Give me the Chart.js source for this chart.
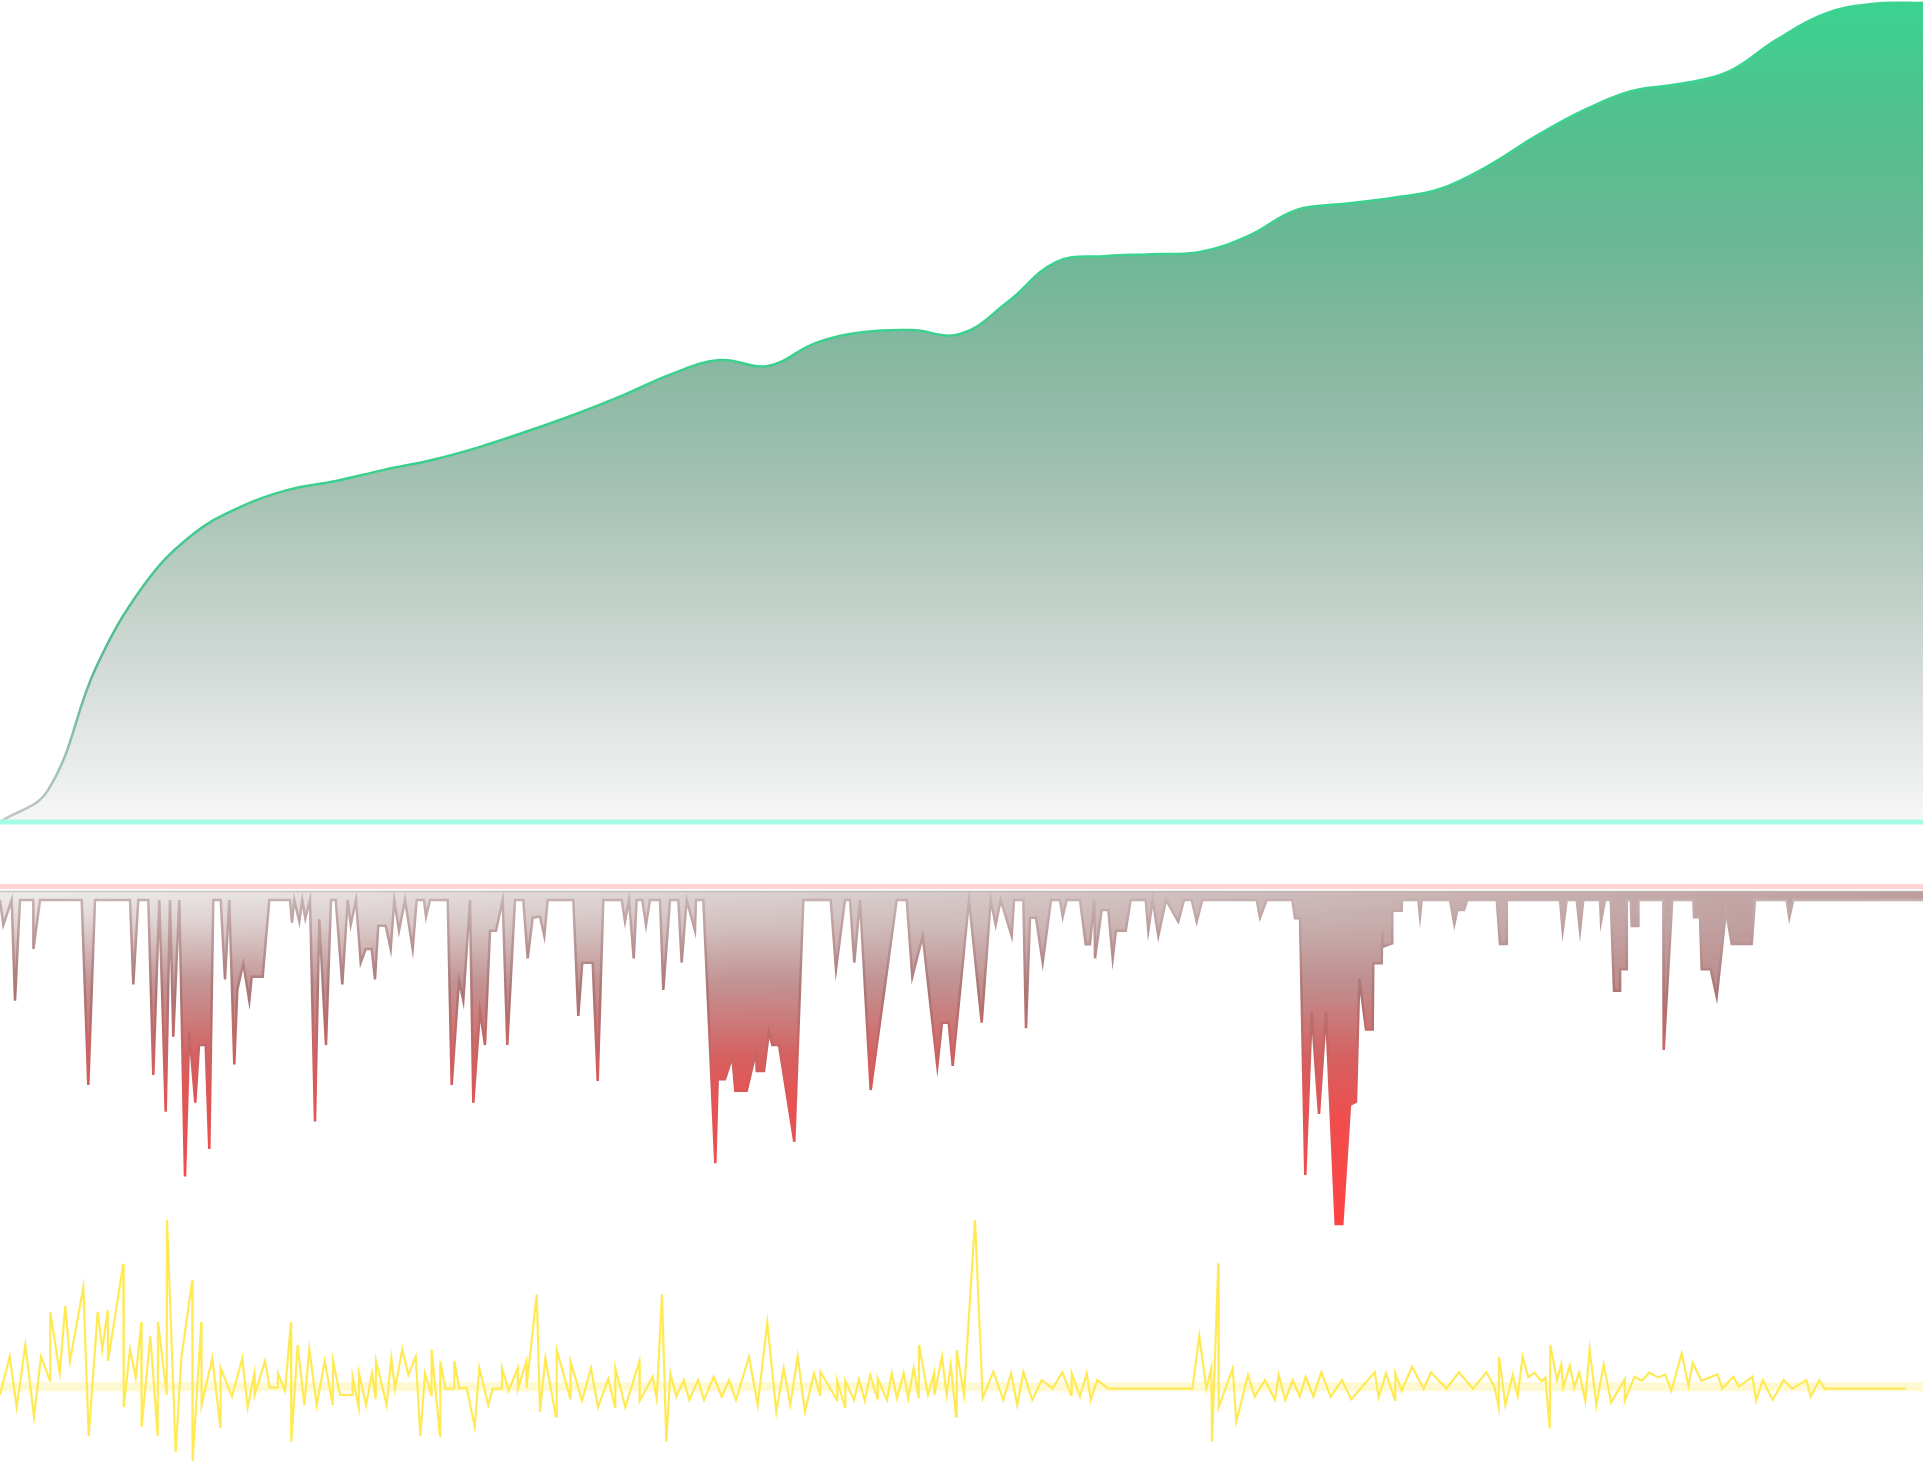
<!DOCTYPE html>
<html>
<head>
<meta charset="utf-8">
<title>Equity, drawdown and returns</title>
<script src="https://cdn.jsdelivr.net/npm/chart.js@4.4.1/dist/chart.umd.min.js"></script>
<style>
  html, body { margin: 0; padding: 0; background: #fff; }
  body { width: 1923px; height: 1461px; position: relative; overflow: hidden; }
  canvas { position: absolute; left: 0; }
  #returns { top: 1200px; }
  #drawdown { top: 880px; }
  #equity { top: 0; }
</style>
</head>
<body>
<canvas id="returns" width="1923" height="261"></canvas>
<canvas id="drawdown" width="1923" height="360"></canvas>
<canvas id="equity" width="1923" height="830"></canvas>
<script>
// time axis is in hours from the start of the run
const TOTAL_HOURS = 1923;

// cumulative equity (%), sampled every 48h
const equityHours = [0, 48, 96, 144, 192, 240, 288, 336, 384, 432, 480, 528, 576, 624, 672, 720, 768, 816, 864, 912,
  960, 1008, 1056, 1104, 1152, 1200, 1248, 1296, 1344, 1392, 1440, 1488, 1536, 1584, 1632, 1680, 1728, 1776, 1824, 1872, 1923];
const equityValues = [0, 9.7, 47, 72.1, 87.3, 95.8, 101.0, 103.7, 107.1, 110.1, 114.1, 118.9, 124.1, 129.9, 136.3, 140.5,
  138.7, 145.7, 149.0, 149.6, 148.4, 158.2, 170.3, 172.1, 172.7, 173.4, 178.2, 186.1, 188.0, 189.8, 192.5, 199.5,
  208.6, 216.5, 222.3, 224.5, 228.1, 237.8, 245.7, 248.8, 249.1];

// drawdown (%)
const ddHours = [0, 3.3, 11.7, 15, 20, 33.3, 33.4, 40, 81.7, 88.3, 95, 130, 133.3, 138.3, 148.3, 153.3, 159.3, 165.7, 170,
  173.3, 179.3, 185, 189.3, 195.3, 199, 205.7, 209.3, 213.3, 220.7, 225, 229.3, 234.3, 237.3, 243.3, 249.3, 251.7, 262.7,
  269.3, 290, 292, 294.3, 299.3, 302.3, 305.3, 310, 315, 319.3, 326, 331, 335.7, 342.3, 347.7, 350.7, 356, 360.7, 365.7,
  371.7, 375, 378.3, 385.7, 390.7, 394.3, 399, 405, 412.7, 416.7, 424, 426, 430, 447.7, 451.7, 459, 463.3, 470, 473.3,
  480, 485, 490, 496, 502.7, 507.3, 515, 523.3, 527.7, 532.7, 540, 544.3, 547.7, 573.3, 578.3, 582.3, 592.7, 597.7,
  603.3, 621.7, 625, 629, 633.7, 636.7, 642.3, 646, 650, 660, 663.3, 670, 678.3, 681.7, 686.7, 695, 696, 703.3, 715.3,
  717.7, 725, 732.3, 735.3, 746.7, 756, 756.7, 764, 769, 772.3, 779, 794.3, 803.3, 830.7, 836, 845, 850, 854.3, 860,
  870.7, 896.7, 906.7, 912.3, 922.7, 937.3, 942, 948.7, 952.7, 969, 981.7, 990.7, 995.7, 1000.7, 1011.7, 1014, 1023.3,
  1026, 1030, 1036, 1042.7, 1051, 1060, 1062.7, 1066.7, 1080, 1085.7, 1090, 1094.3, 1095, 1101.7, 1108.3, 1112.7, 1116,
  1125.7, 1130.7, 1145.7, 1148.3, 1152.7, 1158.3, 1166, 1178.3, 1184, 1191.7, 1196.7, 1202.3, 1256.7, 1260, 1266.7,
  1292.3, 1295, 1300, 1305.3, 1311.7, 1319, 1326, 1335.7, 1342.3, 1350, 1356, 1359.3, 1366, 1372.7, 1373.3, 1381.7,
  1382.3, 1383.3, 1392, 1392.3, 1401.7, 1402, 1418.3, 1420, 1421.7, 1450, 1454.3, 1457.3, 1464, 1467.3, 1496.7, 1500,
  1506.7, 1506.8, 1560, 1562.7, 1566.7, 1576.7, 1580, 1583.3, 1600, 1601, 1605, 1610.7, 1614, 1620, 1620.1, 1626.7,
  1626.8, 1630.7, 1631.7, 1638.3, 1638.4, 1663.3, 1663.7, 1672.3, 1693.3, 1694, 1700, 1701.7, 1710.7, 1716.7, 1726,
  1731.7, 1751.7, 1755, 1786.7, 1789.3, 1793.3, 1923];
const ddValues = [0, -2.31, 0, -9.32, 0, 0, -4.54, 0, 0, -17.13, 0, 0, -7.81, 0, 0, -16.2, 0, -19.6, 0,
  -12.65, 0, -25.6, -12.2, -18.77, -13.43, -13.43, -23.06, 0, 0, -7.35, 0, -15.22, -8.33, -5.86, -9.32, -7.1, -7.1,
  0, 0, -2.1, 0, -2.0, 0, -1.7, 0, -20.5, -1.79, -13.43, 0, 0, -7.81, 0, -2.31, 0, -5.8, -4.54,
  -4.54, -7.35, -2.38, -2.38, -4.54, 0, -2.84, 0, -4.54, 0, 0, -1.54, 0, 0, -17.13, -7.41, -9.32, 0, -18.77,
  -10.25, -13.43, -2.84, -2.84, 0, -13.43, 0, 0, -5.4, -1.64, -1.54, -3.33, 0, 0, -10.74, -5.8, -5.8, -16.76,
  0, 0, -2.0, 0, -5.4, 0, 0, -2.31, 0, 0, -8.33, 0, 0, -5.8, 0, -2.84, 0, 0, -24.38,
  -16.6, -16.6, -14.5, -17.65, -17.65, -14.04, -15.83, -15.83, -12.19, -13.43, -13.43, -22.38, 0, 0, -6.42, 0, 0, -5.8, 0,
  -17.59, 0, 0, -7.1, -3.33, -15.37, -11.36, -11.36, -15.37, 0, -11.36, 0, -2.31, 0, -3.33, 0, 0,
  -11.88, -1.64, -1.64, -5.8, 0, 0, -1.54, 0, 0, -4.1, -4.1, 0, -5.4, -0.93, -0.93, -5.4, -2.84,
  -2.84, 0, 0, -2.84, 0, -3.33, 0, -2.0, 0, 0, -2.0, 0, 0, -1.64, 0,
  0, -1.7, -1.7, -25.46, -10.34, -19.81, -10.34, -30, -30, -18.98, -18.67, -7.25, -11.98, -11.98, -5.86, -5.86,
  -2.93, -4.32, -4.01, -0.99, -0.99, 0, 0, -1.54, 0, 0, -2.25, -0.93, -0.93, 0, 0, -4.07,
  -4.07, 0, 0, -2.84, 0, 0, -2.84, 0, 0, -2.0, 0, 0, -8.4, -8.4, -6.42, -6.42,
  0, 0, -2.41, -2.41, 0, 0, -13.89, 0, 0, -1.6, -1.6, -6.42, -6.42, -8.95, -0.99,
  -4.07, -4.07, 0, 0, -1.64, 0, 0];

// per-period returns (%)
const retHours = [0, 9.7, 16.7, 25.3, 34, 41, 50, 50.3, 59.7, 65.3, 70, 83.3, 88.7, 97.7, 102.3, 107.7, 108, 123.3, 123.7,
  130, 135.7, 141.3, 141.6, 150.3, 157.7, 158, 166.7, 167, 175.7, 181.3, 192.3, 192.6, 201.3, 201.6, 212.3, 220.3, 220.6,
  232, 242.3, 247.7, 254.3, 254.7, 265, 269.7, 277.7, 278, 285, 291, 291.3, 297.7, 304.3, 309.3, 316.7, 324.7, 332.7,
  333, 340, 352.3, 352.6, 358.7, 359, 366, 372, 375.7, 376, 386.7, 391.3, 395, 402.3, 408.3, 415.7, 420.3, 425, 431.3,
  431.6, 440, 440.3, 445.3, 454, 454.3, 459.3, 466.7, 474.7, 479.3, 488.3, 492.7, 501.7, 502, 508.7, 517.7, 517.9,
  526.3, 526.5, 536.7, 540, 545.3, 556, 556.7, 570.3, 570.6, 582, 591, 598, 608.3, 615, 615.3, 625.3, 639.3, 639.7,
  652.7, 656.7, 662, 666.3, 670.3, 676.3, 683.7, 689.3, 698, 704, 713.7, 721.7, 729, 736, 749, 757.7, 767.3, 776.3,
  783.7, 790.3, 797.7, 805, 814, 820, 820.3, 837, 837.3, 845, 845.3, 854, 859, 864.7, 870.3, 877.3, 877.7, 887, 891.7,
  897, 903.7, 908.3, 913.7, 918.7, 919, 928, 934, 934.3, 942, 946.7, 950.7, 956, 956.7, 964, 975, 982.7, 993.3,
  1003.3, 1011, 1017.3, 1023.3, 1032.3, 1041.7, 1052.7, 1062.3, 1071, 1071.7, 1080, 1086.7, 1090.7, 1097.3, 1108.3,
  1192.3, 1199.3, 1206.3, 1211.3, 1212, 1218.3, 1218.7, 1232.7, 1236.3, 1248, 1254.7, 1265, 1275, 1278.7, 1285.3,
  1292.7, 1299.7, 1305.7, 1313.3, 1321.3, 1330.7, 1342, 1351.3, 1374.7, 1378.7, 1386, 1395, 1395.3, 1401.7, 1412,
  1423.7, 1431, 1440, 1446.5, 1458.8, 1473, 1486.4, 1494.4, 1498.7, 1499, 1505.4, 1512.8, 1517.7, 1522.7, 1528.2,
  1534.3, 1541.7, 1545.4, 1549.7, 1550.3, 1557, 1561.3, 1563.2, 1569.9, 1574.2, 1579.2, 1585.3, 1589.6, 1596.4,
  1603.7, 1611.1, 1624.6, 1624.8, 1634.5, 1641.8, 1649.2, 1658.4, 1665.2, 1671.3, 1681.7, 1688.5, 1692.8, 1701.4,
  1717.4, 1722.3, 1733.3, 1738.9, 1752.4, 1756.1, 1762.8, 1772.6, 1783.7, 1792.3, 1806.4, 1810.7, 1819.3, 1824.8, 1906];
const retValues = [-0.37, 1.9, -1.1, 2.59, -1.66, 1.9, 0.47, 4.55, 0.95, 4.9, 1.64, 5.99, -2.8, 4.55, 2.35, 4.66, 1.64, 7.41, -1.1,
  2.33, 0.68, 3.95, -2.25, 3.12, -2.8, 3.95, -0.37, 10.0, -3.77, 1.8, 6.44, -4.3, 3.95, -0.97, 1.8, -2.25, 1.23,
  -0.47, 1.8, -1.1, 0.91, -0.37, 1.64, 0.06, 0.06, 0.91, -0.12, 3.95, -3.14, 2.59, -0.97, 2.33, -0.97, 1.64, -0.97,
  1.64, -0.37, -0.37, 0.68, -1.1, 0.91, -0.97, 0.91, -0.61, 1.64, -0.97, 1.8, -0.02, 2.33, 0.81, 1.9, -2.8, 0.91, -0.37,
  2.33, -2.8, 1.64, 0, 0, 1.64, 0.02, 0.06, -2.25, 1.23, -0.97, 0, 0, 1.21, -0.12, 1.21, 0,
  1.6, 0.06, 5.59, -1.36, 1.78, -1.66, 2.29, -0.57, 1.6, -0.71, 1.21, -1.1, 0.59, -1.1, 1.21, -1.1, 1.6, -0.71,
  0.71, -0.57, 5.59, -3.14, 0.91, -0.47, 0.51, -0.67, 0.51, -0.67, 0.71, -0.47, 0.51, -0.67, 1.9, -0.97, 3.91, -1.36,
  1.21, -0.97, 1.9, -1.36, 0.91, -0.37, 1.01, -0.67, 0.46, -1.1, 0.46, -0.67, 0.55, -0.71, 0.81, -0.57, 0.61, -0.67, 0.91,
  -0.57, 0.91, -0.57, 1.21, -0.57, 2.59, -0.37, 0.91, -0.37, 1.9, -0.37, 1.4, -1.66, 2.29, -0.37, 10.0, -0.57, 1.01,
  -0.67, 0.91, -0.97, 1.01, -0.67, 0.51, 0.02, 0.97, -0.37, 0.91, -0.47, 0.91, -0.67, 0.51, 0,
  0, 3.12, 0, 1.21, -3.14, 7.43, -1.1, 1.21, -1.96, 0.81, -0.47, 0.51, -0.67, 0.81, -0.67,
  0.51, -0.47, 0.71, -0.47, 0.97, -0.47, 0.51, -0.63, 0.97, -0.51, 0.91, -0.67, 0.91, -0.12, 1.3,
  0, 0.97, 0.41, 0, 0.97, 0, 0.97, 0.12, -1.1, 1.9, -0.97, 0.81, -0.43, 1.9, 0.67,
  0.95, 0.43, 0.67, -2.35, 2.59, 0.51, 1.44, 0.08, 1.38, 0.08, 0.97, -0.71, 2.33, -0.97,
  1.44, -0.81, 0.55, -0.71, 0.71, 0.47, 0.95, 0.67, 0.85, -0.12, 2.09, 0.18, 1.54, 0.47,
  0.85, 0, 0.71, 0.12, 0.71, -0.71, 0.51, -0.67, 0.51, 0, 0.51, -0.47, 0.51, 0, 0];

// pair hours with values for the linear time axis
function toPoints(hours, values) {
  return hours.map((h, i) => ({ x: h, y: values[i] }));
}

// horizontal rules drawn through the y scale (kept in a closure, not in chart options)
function drawRules(chart, rules) {
  const { ctx, scales } = chart;
  rules.forEach(r => {
    const y = scales.y.getPixelForValue(r.value) + (r.shift || 0);
    ctx.save();
    ctx.strokeStyle = r.color;
    ctx.lineWidth = r.width;
    ctx.beginPath();
    ctx.moveTo(0, y);
    ctx.lineTo(chart.width, y);
    ctx.stroke();
    ctx.restore();
  });
}

function rulesPlugin(under, over) {
  return {
    id: 'rules',
    beforeDatasetsDraw(chart) { drawRules(chart, under); },
    afterDatasetsDraw(chart) { drawRules(chart, over); }
  };
}

function vGradient(chart, top, bottom, stops) {
  const g = chart.ctx.createLinearGradient(0, top, 0, bottom);
  stops.forEach(s => g.addColorStop(s[0], s[1]));
  return g;
}

function baseOptions(yMin, yMax, padding) {
  return {
    responsive: false,
    animation: false,
    events: [],
    layout: { padding: padding },
    elements: { point: { radius: 0 } },
    plugins: { legend: { display: false }, tooltip: { enabled: false } },
    scales: {
      x: { type: 'linear', min: 0, max: TOTAL_HOURS, display: false },
      y: { min: yMin, max: yMax, display: false }
    }
  };
}

// Equity curve
new Chart(document.getElementById('equity'), {
  type: 'line',
  data: {
    datasets: [{
      data: toPoints(equityHours, equityValues),
      tension: 0.4,
      borderWidth: 2.5,
      fill: 'origin',
      borderColor: (c) => {
        const a = c.chart.chartArea;
        if (!a) return '#3ad38f';
        return vGradient(c.chart, a.top, a.bottom, [[0, '#3ad38f'], [0.6, '#3ccf8d'], [0.82, '#5cb892'], [1, '#c4c8c6']]);
      },
      backgroundColor: (c) => {
        const a = c.chart.chartArea;
        if (!a) return '#9fc0b0';
        return vGradient(c.chart, a.top, a.bottom, [
          [0, '#3ad38f'], [0.15, '#53bf8f'], [0.3, '#6cb796'], [0.45, '#8ab8a3'],
          [0.6, '#a5c2b4'], [0.82, '#d4dbd8'], [1, '#f7f7f7']]);
      }
    }]
  },
  options: baseOptions(0, 250, { bottom: 8 }),
  plugins: [rulesPlugin([], [{ value: 0, color: '#a6fbe7', width: 5 }])]
});

// Drawdown
const ddDeepest = Math.min(...ddValues);
const ddTop = 0.833;
new Chart(document.getElementById('drawdown'), {
  type: 'line',
  data: {
    datasets: [{
      data: toPoints(ddHours, ddValues),
      tension: 0,
      borderWidth: 2.5,
      fill: 'end',
      borderColor: (c) => {
        const a = c.chart.chartArea;
        if (!a) return '#c06060';
        const bottom = c.chart.scales.y.getPixelForValue(ddDeepest);
        return vGradient(c.chart, a.top, bottom, [[0, '#c8b6b6'], [0.3, '#ac7676'], [0.6, '#dc5858'], [1, '#ff4444']]);
      },
      backgroundColor: (c) => {
        const a = c.chart.chartArea;
        if (!a) return 'rgba(220,90,90,0.8)';
        const bottom = c.chart.scales.y.getPixelForValue(ddDeepest);
        return vGradient(c.chart, a.top, bottom, [
          [0, 'rgba(185,140,140,0)'], [0.1, 'rgba(185,140,140,0.25)'], [0.27, 'rgba(190,136,136,0.85)'],
          [0.5, 'rgba(214,96,96,1)'], [0.7, 'rgba(242,76,76,1)'], [1, 'rgba(255,66,66,1)']]);
      }
    }, {
      // horizontal tint underneath
      data: toPoints(ddHours, ddValues),
      tension: 0,
      borderWidth: 0,
      fill: 'end',
      backgroundColor: (c) => {
        const a = c.chart.chartArea;
        if (!a) return '#ddd';
        const g = c.chart.ctx.createLinearGradient(a.left, 0, a.right, 0);
        g.addColorStop(0, '#efeded');
        g.addColorStop(0.5, '#d6caca');
        g.addColorStop(1, '#be9e9e');
        return g;
      }
    }]
  },
  options: baseOptions(-31.48, ddTop, { top: 11 }),
  plugins: [rulesPlugin([], [
    { value: ddTop, shift: -4.5, color: '#ffd5d5', width: 5 },
    { value: ddTop, shift: 0.5, color: 'rgba(190,175,175,0.7)', width: 1.5 }])]
});

// Returns
new Chart(document.getElementById('returns'), {
  type: 'line',
  data: {
    datasets: [{
      data: toPoints(retHours, retValues),
      tension: 0,
      borderWidth: 2.2,
      borderColor: '#ffea55',
      fill: false
    }]
  },
  options: baseOptions(-4.286, 11.186, 0),
  plugins: [rulesPlugin([{ value: 0, shift: -2, color: 'rgba(255,238,130,0.35)', width: 9 }], [])]
});
</script>
</body>
</html>
